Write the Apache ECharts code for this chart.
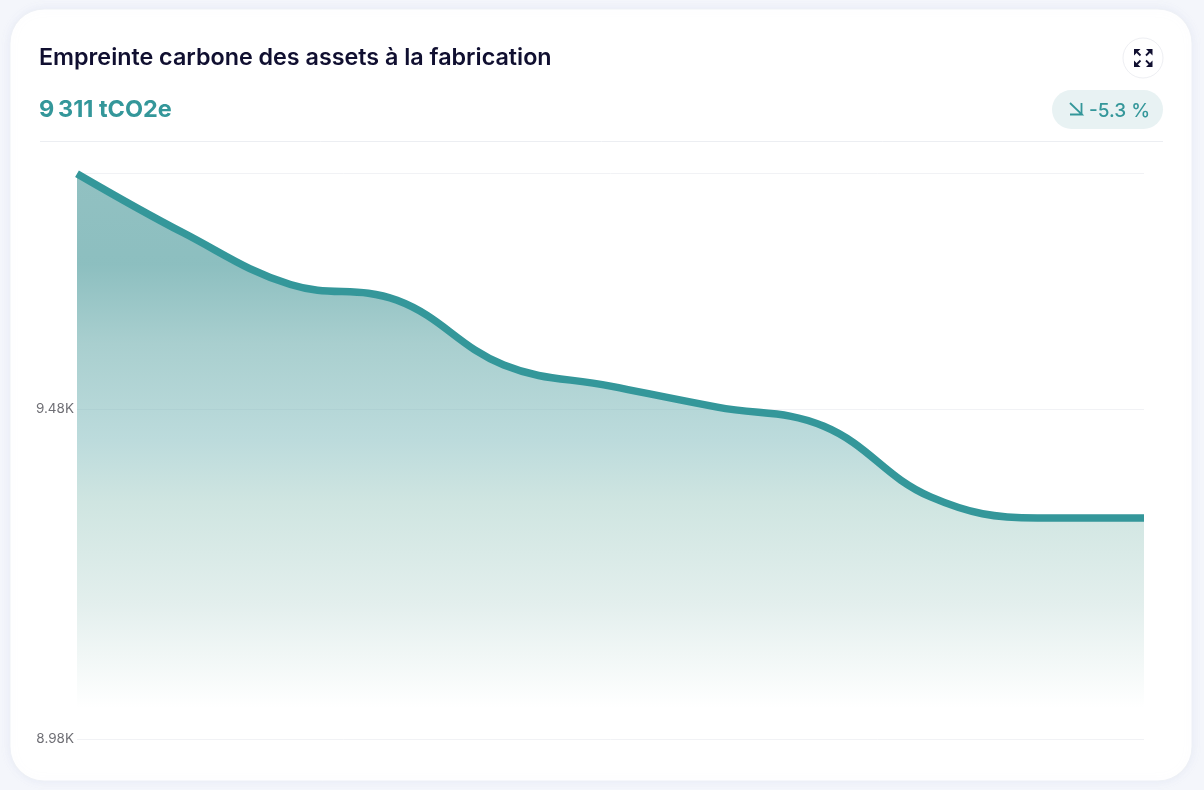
<!DOCTYPE html>
<html><head><meta charset="utf-8">
<script src="https://cdn.jsdelivr.net/npm/echarts@6/dist/echarts.min.js"></script>
<style>
html,body{margin:0;padding:0;width:1204px;height:790px;overflow:hidden;background:#f4f6fb}
#chart{width:1204px;height:790px}
</style></head><body><div id="chart"></div>
<script>
var title = 'Empreinte carbone des assets à la fabrication';
var total = '9\u202f311 tCO2e';
var change = '-5.3 %';
var months = ['1','2','3','4','5','6','7','8','9','10','11'];
var values = [9837, 9747, 9669, 9645, 9547, 9515, 9483, 9454, 9347, 9315, 9315];
var yMin = 8980, yMax = 9838, yInterval = 500;
var TEAL = '#34979a', INK = '#100f30', FONT = 'Inter, "Open Sans", sans-serif';

function cornerIcon(cx, cy, sx, sy) {
  return [
    {type:'polygon',shape:{points:[[cx,cy],[cx-sx*6.5,cy],[cx,cy-sy*6.5]]},style:{fill:INK}},
    {type:'line',shape:{x1:cx-sx*3,y1:cy-sy*3,x2:cx-sx*6.5,y2:cy-sy*6.5},style:{stroke:INK,lineWidth:1.8}}
  ];
}
var icon = [].concat(
  cornerIcon(1134,49,-1,-1), cornerIcon(1152.5,49,1,-1),
  cornerIcon(1134,67,-1,1), cornerIcon(1152.5,67,1,1)
);

var chart = echarts.init(document.getElementById('chart'), null, {renderer:'canvas'});
chart.setOption({
  animation:false,
  backgroundColor:'#f4f6fb',
  graphic:[
    {type:'rect',z:-1,shape:{x:10,y:9,width:1182,height:772,r:34},style:{fill:'#fff',stroke:'#eef1f6',lineWidth:1,shadowBlur:10,shadowColor:'rgba(180,190,220,0.18)'}},
    {type:'text',left:39,top:46,style:{text:title,font:'600 23.3px '+FONT,fill:INK}},
    {type:'text',left:39,top:98,style:{text:total,font:'700 23.5px '+FONT,fill:TEAL}},
    {type:'line',shape:{x1:40,y1:141.5,x2:1163,y2:141.5},style:{stroke:'#eceef2',lineWidth:1}},
    {type:'circle',shape:{cx:1143,cy:58,r:20},style:{fill:'#fff',stroke:'#eeeff3',lineWidth:1}}
  ].concat(icon, [
    {type:'rect',shape:{x:1052,y:90,width:111,height:39,r:19.5},style:{fill:'#e8f2f3'}},
    {type:'polyline',shape:{points:[[1070,103],[1082,114.5],[1070,114.5]]},style:{stroke:TEAL,lineWidth:1.8,fill:null}},
    {type:'line',shape:{x1:1081.5,y1:103,x2:1081.5,y2:115},style:{stroke:TEAL,lineWidth:1.8}},
    {type:'text',x:1089,y:111,style:{text:change,font:'500 19px '+FONT,fill:TEAL,verticalAlign:'middle'}}
  ]),
  grid:{left:77,right:60,top:173,bottom:51,containLabel:false},
  xAxis:{type:'category',data:months,boundaryGap:false,axisLine:{show:false},axisTick:{show:false},axisLabel:{show:false},splitLine:{show:false}},
  yAxis:{type:'value',min:yMin,max:yMax,interval:yInterval,axisLine:{show:false},axisTick:{show:false},
    axisLabel:{margin:3,fontFamily:FONT,fontSize:13.5,color:'#6f6f75',formatter:function(v){return v===yMax?'':(v/1000).toFixed(2)+'K';}},
    splitLine:{lineStyle:{color:'#f1f2f5',width:1}}},
  series:[{type:'line',data:values,smooth:0.4,symbol:'none',lineStyle:{color:TEAL,width:7.5},
    areaStyle:{opacity:1,color:{type:'linear',x:0,y:0,x2:0,y2:1,colorStops:[
      {offset:0,color:'rgba(37,131,133,0.5)'},
      {offset:0.16,color:'rgba(27,127,129,0.5)'},
      {offset:0.3,color:'rgba(83,159,159,0.5)'},
      {offset:0.47,color:'rgba(121,183,185,0.5)'},
      {offset:0.58,color:'rgba(159,203,195,0.5)'},
      {offset:0.76,color:'rgba(199,223,219,0.5)'},
      {offset:0.945,color:'rgba(255,255,255,0.5)'},
      {offset:1,color:'rgba(255,255,255,0)'}]}}}]
});
</script></body></html>
